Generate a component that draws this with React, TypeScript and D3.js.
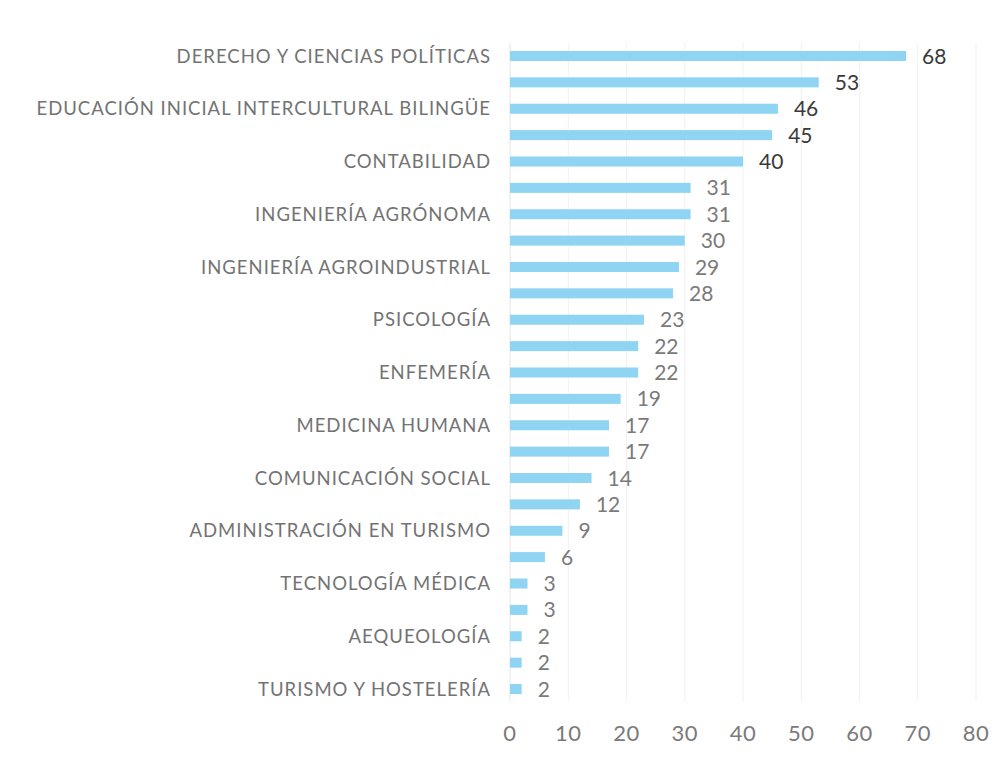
import React from "react";
import * as d3 from "d3";

const categories: string[] = [
  "DERECHO Y CIENCIAS POLÍTICAS",
  "",
  "EDUCACIÓN INICIAL INTERCULTURAL BILINGÜE",
  "",
  "CONTABILIDAD",
  "",
  "INGENIERÍA AGRÓNOMA",
  "",
  "INGENIERÍA AGROINDUSTRIAL",
  "",
  "PSICOLOGÍA",
  "",
  "ENFEMERÍA",
  "",
  "MEDICINA HUMANA",
  "",
  "COMUNICACIÓN SOCIAL",
  "",
  "ADMINISTRACIÓN EN TURISMO",
  "",
  "TECNOLOGÍA MÉDICA",
  "",
  "AEQUEOLOGÍA",
  "",
  "TURISMO Y HOSTELERÍA",
];

const values: number[] = [
  68, 53, 46, 45, 40, 31, 31, 30, 29, 28, 23, 22, 22, 19, 17, 17, 14, 12, 9, 6, 3, 3, 2, 2, 2,
];

const xTicks: number[] = [0, 10, 20, 30, 40, 50, 60, 70, 80];

const W = 1005;
const H = 757;
const FONT = "Lato, 'Open Sans', sans-serif";

export default function App() {
  const x = d3.scaleLinear().domain([0, 80]).range([510, 976]);
  const idx = categories.map((_, i) => i);
  const y = d3
    .scaleBand<number>()
    .domain(idx)
    .range([42.8, 702.2])
    .paddingInner(0.62)
    .paddingOuter(0.31);
  const bw = y.bandwidth();

  return (
    <svg
      width={W}
      height={H}
      style={{ position: "absolute", left: 0, top: 0, background: "#fff" }}
      fontFamily={FONT}
    >
      <rect x={0} y={0} width={W} height={H} fill="#fff" />
      {xTicks.map((t) => (
        <line
          key={"g" + t}
          x1={x(t)}
          x2={x(t)}
          y1={43}
          y2={701}
          stroke={t === 0 ? "#e4e4e4" : "#f1f1f1"}
          strokeWidth={1}
        />
      ))}
      {values.map((v, i) => (
        <rect
          key={"b" + i}
          x={x(0)}
          y={y(i)!}
          width={x(v) - x(0)}
          height={bw}
          fill="#8fd4f3"
        />
      ))}
      {values.map((v, i) => (
        <text
          key={"v" + i}
          x={x(v) + 16}
          y={y(i)! + bw / 2}
          dy="0.36em"
          fontSize={21}
          fill={i < 5 ? "#3a3a3a" : "#7a7a7a"}
        >
          {v}
        </text>
      ))}
      {categories.map((c, i) =>
        c ? (
          <text
            key={"c" + i}
            x={491}
            y={y(i)! + bw / 2}
            dy="0.36em"
            textAnchor="end"
            fontSize={18.5}
            letterSpacing={1}
            fill="#737373"
          >
            {c}
          </text>
        ) : null
      )}
      {xTicks.map((t) => (
        <text
          key={"t" + t}
          x={x(t)}
          y={733}
          dy="0.36em"
          textAnchor="middle"
          fontSize={22}
          letterSpacing={0.5}
          fill="#7a7a7a"
        >
          {t}
        </text>
      ))}
    </svg>
  );
}
